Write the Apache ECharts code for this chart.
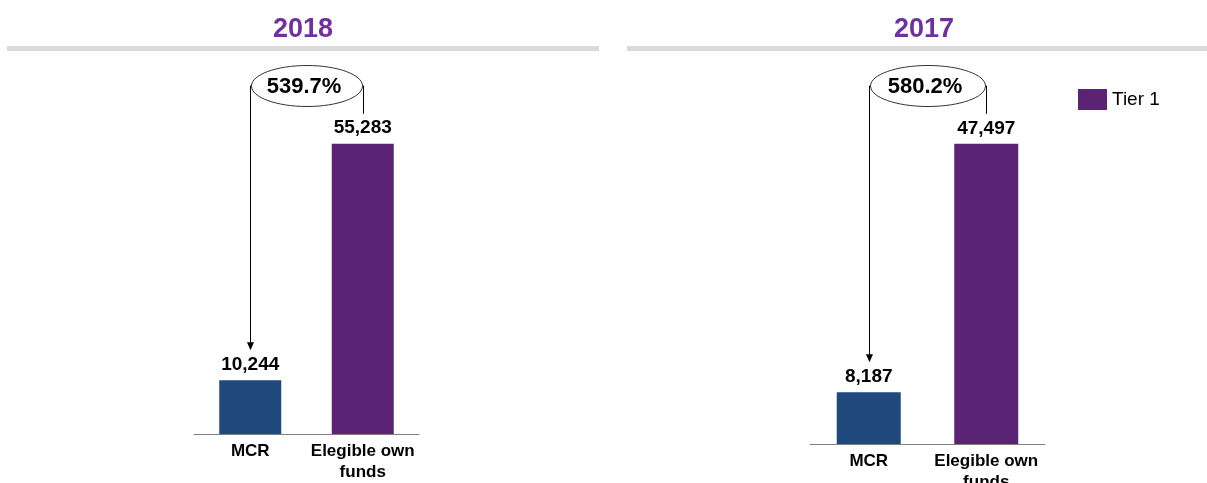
<!DOCTYPE html>
<html><head><meta charset="utf-8">
<script src="https://cdn.jsdelivr.net/npm/echarts@6/dist/echarts.min.js"></script>
<style>html,body{margin:0;padding:0;background:#fff}#c{width:1207px;height:483px}</style>
</head><body><div id="c"></div>
<script>
const categories = ['MCR', 'Elegible own\nfunds'];
const years = ['2018', '2017'];
const values2018 = [10244, 55283];
const values2017 = [8187, 47497];
const ratios = ['539.7%', '580.2%'];
const seriesName = 'Tier 1';

const FONT = '"Liberation Sans", Arial, sans-serif';
const BLUE = '#1F497D';
const PURPLE = '#5B2373';
const TITLE = '#7030A0';

function seriesData(vals) {
  return vals.map((v, i) => i === 0 ? { value: v, itemStyle: { color: BLUE } } : { value: v });
}
function xAxis(gi) {
  return {
    type: 'category', gridIndex: gi, data: categories,
    axisTick: { show: false },
    axisLine: { lineStyle: { color: '#808080', width: 1 } },
    axisLabel: { interval: 0, fontFamily: FONT, fontSize: 17, fontWeight: 'bold', color: '#000', margin: 7, lineHeight: 21 }
  };
}
function yAxis(gi, max) {
  return { type: 'value', gridIndex: gi, min: 0, max: max, show: false, splitLine: { show: false } };
}
function bar(gi, vals, bw) {
  return {
    type: 'bar', name: seriesName, xAxisIndex: gi, yAxisIndex: gi, barWidth: bw,
    itemStyle: { color: PURPLE },
    data: seriesData(vals),
    label: { show: true, position: 'top', distance: 6, fontFamily: FONT, fontSize: 19, fontWeight: 'bold', color: '#000',
      formatter: p => Number(p.value).toLocaleString('en-US') }
  };
}

const chart = echarts.init(document.getElementById('c'), null, { renderer: 'canvas' });
chart.setOption({
  animation: false,
  backgroundColor: '#fff',
  legend: {
    data: [seriesName], left: 1078, top: 89, itemWidth: 29, itemHeight: 21, itemGap: 10, padding: 0,
    icon: 'rect',
    textStyle: { fontFamily: FONT, fontSize: 19, color: '#000' }
  },
  grid: [
    { left: 194, width: 225, top: 119, height: 315, outerBoundsMode: 'none', containLabel: false },
    { left: 810, width: 235, top: 128, height: 316, outerBoundsMode: 'none', containLabel: false }
  ],
  xAxis: [xAxis(0), xAxis(1)],
  yAxis: [yAxis(0, 60000), yAxis(1, 50000)],
  series: [bar(0, values2018, 62), bar(1, values2017, 64)]
});

function annotations() {
  const g = [];
  const panels = [
    { title: years[0], tx: 303, line: [7, 599], vals: values2018, ratio: ratios[0] },
    { title: years[1], tx: 924, line: [627, 1207], vals: values2017, ratio: ratios[1] }
  ];
  panels.forEach((p, i) => {
    g.push({ type: 'text', style: { text: p.title, x: p.tx, y: 30, align: 'center', verticalAlign: 'middle',
      font: 'bold 27px ' + FONT, fill: TITLE } });
    g.push({ type: 'rect', shape: { x: p.line[0], y: 46, width: p.line[1] - p.line[0], height: 5 }, style: { fill: '#D9D9D9' } });
    const pL = chart.convertToPixel({ xAxisIndex: i, yAxisIndex: i }, [0, p.vals[0]]);
    const pR = chart.convertToPixel({ xAxisIndex: i, yAxisIndex: i }, [1, p.vals[1]]);
    const xL = Math.round(pL[0]) + 0.5, xR = Math.round(pR[0]) + 0.5;
    const cy = 86, cx = (xL + xR) / 2, rx = (xR - xL) / 2 - 1, ry = 20.5;
    const tip = pL[1] - 30, rb = pR[1] - 30;
    g.push({ type: 'polyline', shape: { points: [[cx - rx, cy], [xL, cy], [xL, tip - 7]] }, style: { stroke: '#000', lineWidth: 1, fill: null } });
    g.push({ type: 'polygon', shape: { points: [[xL - 3.5, tip - 8], [xL + 3.5, tip - 8], [xL, tip]] }, style: { fill: '#000' } });
    g.push({ type: 'polyline', shape: { points: [[cx + rx, cy], [xR, cy], [xR, rb]] }, style: { stroke: '#000', lineWidth: 1, fill: null } });
    g.push({ type: 'ellipse', z: 10, shape: { cx: cx, cy: cy, rx: rx, ry: ry }, style: { fill: '#fff', stroke: '#333', lineWidth: 1 } });
    g.push({ type: 'text', z: 11, style: { text: p.ratio, x: cx - 3, y: cy + 1, align: 'center', verticalAlign: 'middle',
      font: 'bold 22px ' + FONT, fill: '#000' } });
  });
  return g;
}
chart.setOption({ graphic: annotations() });
</script></body></html>
